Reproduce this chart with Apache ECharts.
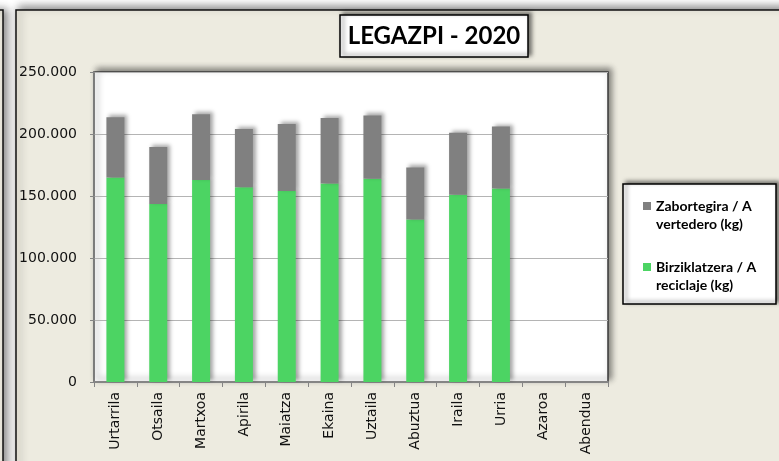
<!DOCTYPE html>
<html>
<head>
<meta charset="utf-8">
<script src="https://cdn.jsdelivr.net/npm/echarts@6/dist/echarts.min.js"></script>
<style>
  html, body { margin: 0; padding: 0; background: #fff; }
  #main { width: 779px; height: 461px; }
</style>
</head>
<body>
<div id="main"></div>
<script>
var months = ['Urtarrila', 'Otsaila', 'Martxoa', 'Apirila', 'Maiatza', 'Ekaina', 'Uztaila', 'Abuztua', 'Iraila', 'Urria', 'Azaroa', 'Abendua'];
// kg, green part (bottom of the stack)
var reciclaje = [165000, 143500, 163000, 157000, 154000, 160000, 164000, 131000, 151000, 156000, null, null];
// kg, grey part (top of the stack)
var vertedero = [48500, 46000, 53000, 47000, 54000, 53000, 51000, 42000, 50000, 50000, null, null];
var yTicks = [0, 50000, 100000, 150000, 200000, 250000];

var nameVert = 'Zabortegira / A\nvertedero (kg)';
var nameRec = 'Birziklatzera / A\nreciclaje (kg)';

var myChart = echarts.init(document.getElementById('main'));

function fmtThousands(v) {
	return String(v).replace(/\B(?=(\d{3})+(?!\d))/g, '.');
}

var barShadow = {
	shadowBlur: 4,
	shadowColor: 'rgba(0,0,0,0.35)',
	shadowOffsetX: 3,
	shadowOffsetY: -2
};

var option = {
	backgroundColor: '#fff',
	animation: false,
	graphic: [
		// neighbour chart edge on the far left
		{
			type: 'rect', z: -10, silent: true,
			shape: { x: -50, y: 10, width: 53, height: 500 },
			style: { fill: '#EDEBE0', stroke: '#111', lineWidth: 1.5, shadowBlur: 8, shadowColor: 'rgba(0,0,0,0.45)', shadowOffsetX: 4 }
		},
		// outer chart area
		{
			type: 'rect', z: -10, silent: true,
			shape: { x: 16, y: 10, width: 800, height: 500 },
			style: { fill: '#EDEBE0', stroke: '#111', lineWidth: 1.5, shadowBlur: 8, shadowColor: 'rgba(0,0,0,0.45)', shadowOffsetX: 3, shadowOffsetY: -3 }
		},
		// title box
		{
			type: 'rect', z: 3, silent: true,
			shape: { x: 340, y: 15, width: 188, height: 42 },
			style: { fill: '#fff', stroke: '#000', lineWidth: 1.5, shadowBlur: 4, shadowColor: 'rgba(0,0,0,0.5)', shadowOffsetX: 3, shadowOffsetY: -2 }
		},
		// legend box
		{
			type: 'rect', z: 3, silent: true,
			shape: { x: 623, y: 184, width: 153, height: 120 },
			style: { fill: '#fff', stroke: '#000', lineWidth: 1.5, shadowBlur: 4, shadowColor: 'rgba(0,0,0,0.5)', shadowOffsetX: 3, shadowOffsetY: -2 }
		}
	],
	title: {
		text: 'LEGAZPI - 2020',
		left: 434,
		top: 22,
		textAlign: 'center',
		padding: 0,
		textStyle: {
			fontFamily: 'Lato',
			fontWeight: 'bold',
			fontSize: 24,
			lineHeight: 28,
			color: '#000'
		}
	},
	legend: {
		orient: 'vertical',
		left: 643,
		top: 179,
		padding: 0,
		itemGap: 7,
		itemWidth: 8,
		itemHeight: 8,
		icon: 'rect',
		data: [nameVert, nameRec],
		// empty first line so the icon sits next to the first real line
		formatter: function(name) {
			return ' \n' + name;
		},
		textStyle: {
			fontFamily: 'Lato',
			fontWeight: 'bold',
			fontSize: 14,
			lineHeight: 18,
			color: '#000'
		}
	},
	grid: {
		left: 94,
		top: 72,
		width: 514,
		height: 310,
		show: true,
		backgroundColor: '#fff',
		borderColor: '#3a3a3a',
		borderWidth: 1.5,
		shadowBlur: 6,
		shadowColor: 'rgba(0,0,0,0.45)',
		shadowOffsetX: 3,
		shadowOffsetY: -3
	},
	xAxis: {
		type: 'category',
		data: months,
		axisLine: { lineStyle: { color: '#858585', width: 2 } },
		axisTick: { show: true, length: 5, lineStyle: { color: '#858585', width: 1 } },
		axisLabel: {
			rotate: 90,
			margin: 10,
			fontFamily: 'DejaVu Sans',
			fontSize: 14,
			color: '#111'
		}
	},
	yAxis: {
		type: 'value',
		min: 0,
		max: yTicks[yTicks.length - 1],
		interval: yTicks[1] - yTicks[0],
		axisLine: { show: true, lineStyle: { color: '#858585', width: 1.5 } },
		axisTick: { show: true, length: 4, lineStyle: { color: '#858585' } },
		splitLine: { lineStyle: { color: '#b4b4b4', width: 1 } },
		axisLabel: {
			margin: 17,
			fontFamily: 'DejaVu Sans',
			fontSize: 14,
			color: '#111',
			formatter: fmtThousands
		}
	},
	series: [
		{
			name: nameRec,
			type: 'bar',
			stack: 'total',
			barWidth: 18,
			data: reciclaje,
			itemStyle: Object.assign({ color: '#4cd463' }, barShadow)
		},
		{
			name: nameVert,
			type: 'bar',
			stack: 'total',
			barWidth: 18,
			data: vertedero,
			itemStyle: Object.assign({ color: '#808080' }, barShadow)
		}
	]
};

myChart.setOption(option);

window.addEventListener('resize', function() {
	myChart.resize();
});
</script>
</body>
</html>
